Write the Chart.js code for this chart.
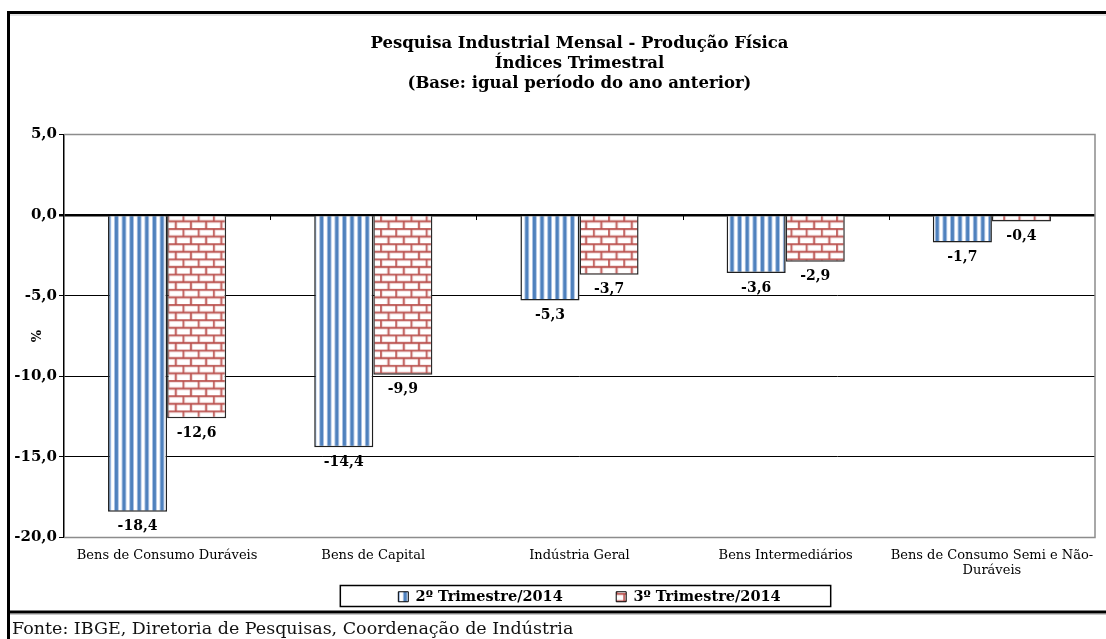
<!DOCTYPE html>
<html lang="pt-BR">
<head>
<meta charset="utf-8">
<title>Pesquisa Industrial Mensal - Produção Física</title>
<script src="https://cdn.jsdelivr.net/npm/chart.js@4/dist/chart.umd.min.js"></script>
<style>
  html, body { margin: 0; padding: 0; background: #fff; }
  #wrap { position: relative; width: 1106px; height: 639px; overflow: hidden; }
  #footer {
    position: absolute; left: 12px; top: 618px;
    font-family: "DejaVu Serif", serif; font-size: 17.5px; color: #111;
    white-space: nowrap; line-height: 20px;
  }
</style>
</head>
<body>
<div id="wrap">
  <canvas id="chart"></canvas>
  <div id="footer">Fonte: IBGE, Diretoria de Pesquisas, Coordenação de Indústria</div>
</div>
<script>
// --- data ---
const categories = [
  'Bens de Consumo Duráveis',
  'Bens de Capital',
  'Indústria Geral',
  'Bens Intermediários',
  ['Bens de Consumo Semi e Não-', 'Duráveis']
];
const trim2 = [-18.4, -14.4, -5.3, -3.6, -1.7];
const trim3 = [-12.6, -9.9, -3.7, -2.9, -0.4];
const seriesNames = ['2º Trimestre/2014', '3º Trimestre/2014'];
const titleLines = [
  'Pesquisa Industrial Mensal - Produção Física',
  'Índices Trimestral',
  '(Base: igual período do ano anterior)'
];
const yMin = -20, yMax = 5, yStep = 5;

const FONT = '"DejaVu Serif", serif';
const fmt = v => v.toFixed(1).replace('.', ',');

// --- fill patterns ---
function stripePattern() {
  const c = document.createElement('canvas');
  c.width = 8; c.height = 8;
  const g = c.getContext('2d');
  g.fillStyle = '#fff'; g.fillRect(0, 0, 8, 8);
  g.fillStyle = '#a9c1e3'; g.fillRect(0, 0, 5, 8);
  g.fillStyle = '#4f81bd'; g.fillRect(1, 0, 3, 8);
  const p = g.createPattern(c, 'repeat');
  p.setTransform(new DOMMatrix([0.95, 0, 0, 0.95, 0, 0]));
  return p;
}
function brickPattern() {
  const c = document.createElement('canvas');
  c.width = 16; c.height = 16;
  const g = c.getContext('2d');
  g.fillStyle = '#fff'; g.fillRect(0, 0, 16, 16);
  const lines = (w, col) => {
    g.strokeStyle = col; g.lineWidth = w;
    g.beginPath();
    g.moveTo(0, 1); g.lineTo(16, 1);
    g.moveTo(0, 9); g.lineTo(16, 9);
    g.moveTo(1, 1); g.lineTo(1, 9);
    g.moveTo(9, 9); g.lineTo(9, 17);
    g.moveTo(9, -7); g.lineTo(9, 1);
    g.stroke();
  };
  lines(3, '#e6bcbb');
  lines(1.4, '#b84a47');
  const p = g.createPattern(c, 'repeat');
  p.setTransform(new DOMMatrix([0.95, 0, 0, 0.95, 0, 0]));
  return p;
}
const bluePat = stripePattern();
const redPat = brickPattern();

// --- plugins ---
const framePlugin = {
  id: 'frame',
  afterLayout(chart) {
    // legend sits a little right of the plot centre in the original
    chart.legend.left += 10;
    chart.legend.right += 10;
  },
  beforeDraw(chart) {
    const { ctx } = chart;
    ctx.save();
    ctx.fillStyle = '#fff';
    ctx.fillRect(0, 0, chart.width, chart.height);
    ctx.strokeStyle = '#000';
    ctx.lineWidth = 3;
    ctx.beginPath();
    ctx.moveTo(8, 12.5); ctx.lineTo(chart.width, 12.5);
    ctx.moveTo(8.5, 11); ctx.lineTo(8.5, chart.height);
    ctx.moveTo(8, 612); ctx.lineTo(chart.width, 612);
    ctx.stroke();
    ctx.strokeStyle = '#c8c8c8';
    ctx.lineWidth = 1;
    ctx.beginPath();
    ctx.moveTo(10, 15); ctx.lineTo(chart.width, 15);
    ctx.moveTo(10, 614.5); ctx.lineTo(chart.width, 614.5);
    ctx.stroke();
    ctx.restore();
  },
  beforeDatasetsDraw(chart) {
    // plot area outline (top, right, bottom) in grey
    const { ctx, chartArea: a } = chart;
    ctx.save();
    ctx.strokeStyle = '#8c8c8c';
    ctx.lineWidth = 1.5;
    ctx.beginPath();
    ctx.moveTo(a.left, a.top); ctx.lineTo(a.right, a.top);
    ctx.lineTo(a.right, a.bottom); ctx.lineTo(a.left, a.bottom);
    ctx.stroke();
    // small category ticks on the zero line
    const x = chart.scales.x, y0 = chart.scales.y.getPixelForValue(0);
    ctx.strokeStyle = '#000';
    ctx.lineWidth = 1;
    ctx.beginPath();
    for (let i = 1; i < categories.length; i++) {
      const px = Math.round((x.getPixelForValue(i - 1) + x.getPixelForValue(i)) / 2) + 0.5;
      ctx.moveTo(px, y0); ctx.lineTo(px, y0 + 5);
    }
    ctx.stroke();
    ctx.restore();
  },
  afterDatasetsDraw(chart) {
    // value labels under each bar
    const { ctx } = chart;
    ctx.save();
    ctx.font = 'bold 14px ' + FONT;
    ctx.fillStyle = '#000';
    ctx.textAlign = 'center';
    ctx.textBaseline = 'middle';
    chart.data.datasets.forEach((ds, i) => {
      chart.getDatasetMeta(i).data.forEach((bar, j) => {
        ctx.fillText(fmt(ds.data[j]), bar.x, bar.y + 15);
      });
    });
    ctx.restore();
  },
  afterDraw(chart) {
    // frame around the legend
    const hb = chart.legend.legendHitBoxes;
    if (!hb || !hb.length) return;
    const last = hb[hb.length - 1];
    const l = hb[0].left - 58, r = last.left + last.width + 50;
    const t = hb[0].top - 4;
    const { ctx } = chart;
    ctx.save();
    ctx.strokeStyle = '#000';
    ctx.lineWidth = 1.5;
    ctx.strokeRect(l, t, r - l, 21);
    ctx.restore();
  }
};

const ctx = document.getElementById('chart').getContext('2d');
new Chart(ctx, {
  type: 'bar',
  data: {
    labels: categories,
    datasets: [
      {
        label: seriesNames[0],
        data: trim2,
        backgroundColor: bluePat,
        borderColor: '#1f1f1f',
        borderWidth: 1.5,
        barPercentage: 1,
        categoryPercentage: 0.573
      },
      {
        label: seriesNames[1],
        data: trim3,
        backgroundColor: redPat,
        borderColor: '#2a2a2a',
        borderWidth: 1.5,
        barPercentage: 1,
        categoryPercentage: 0.573
      }
    ]
  },
  options: {
    responsive: true,
    maintainAspectRatio: false,
    animation: false,
    layout: { padding: { left: 10, right: 11, top: 34, bottom: 25 } },
    plugins: {
      title: {
        display: true,
        fullSize: false,
        text: titleLines,
        color: '#000',
        font: { family: FONT, size: 16.5, weight: 'bold', lineHeight: 1.2 },
        padding: { top: 0, bottom: 41 }
      },
      legend: {
        position: 'bottom',
        fullSize: false,
        labels: {
          color: '#000',
          font: { family: FONT, size: 14.5, weight: 'bold' },
          boxWidth: 10,
          boxHeight: 10,
          padding: 8,
          generateLabels(chart) {
            const items = Chart.defaults.plugins.legend.labels.generateLabels(chart);
            items.forEach((it, i) => {
              it.strokeStyle = '#000';
              it.lineWidth = 1;
              if (i === 0) it.text += '         ';
            });
            return items;
          }
        }
      },
      tooltip: { enabled: false }
    },
    scales: {
      x: {
        grid: { display: false },
        border: { display: false },
        ticks: {
          color: '#000',
          font: { family: FONT, size: 13 },
          padding: 2,
          maxRotation: 0,
          autoSkip: false
        },
        afterFit: s => { s.height = 44; }
      },
      y: {
        min: yMin,
        max: yMax,
        border: { color: '#000', width: 1.5 },
        grid: {
          color: c => (c.tick.value === yMax || c.tick.value === yMin) ? '#8c8c8c' : '#000',
          lineWidth: c => c.tick.value === 0 ? 2.5 : 1,
          tickColor: '#000',
          tickLength: 5
        },
        ticks: {
          stepSize: yStep,
          color: '#000',
          font: { family: FONT, size: 15, weight: 'bold' },
          padding: 2,
          callback: v => fmt(v)
        },
        title: {
          display: true,
          text: '%',
          color: '#000',
          font: { family: FONT, size: 13, weight: 'bold' },
          padding: { top: 20, bottom: 0 }
        },
        afterFit: s => { s.width = 54; }
      }
    }
  },
  plugins: [framePlugin]
});
</script>
</body>
</html>
